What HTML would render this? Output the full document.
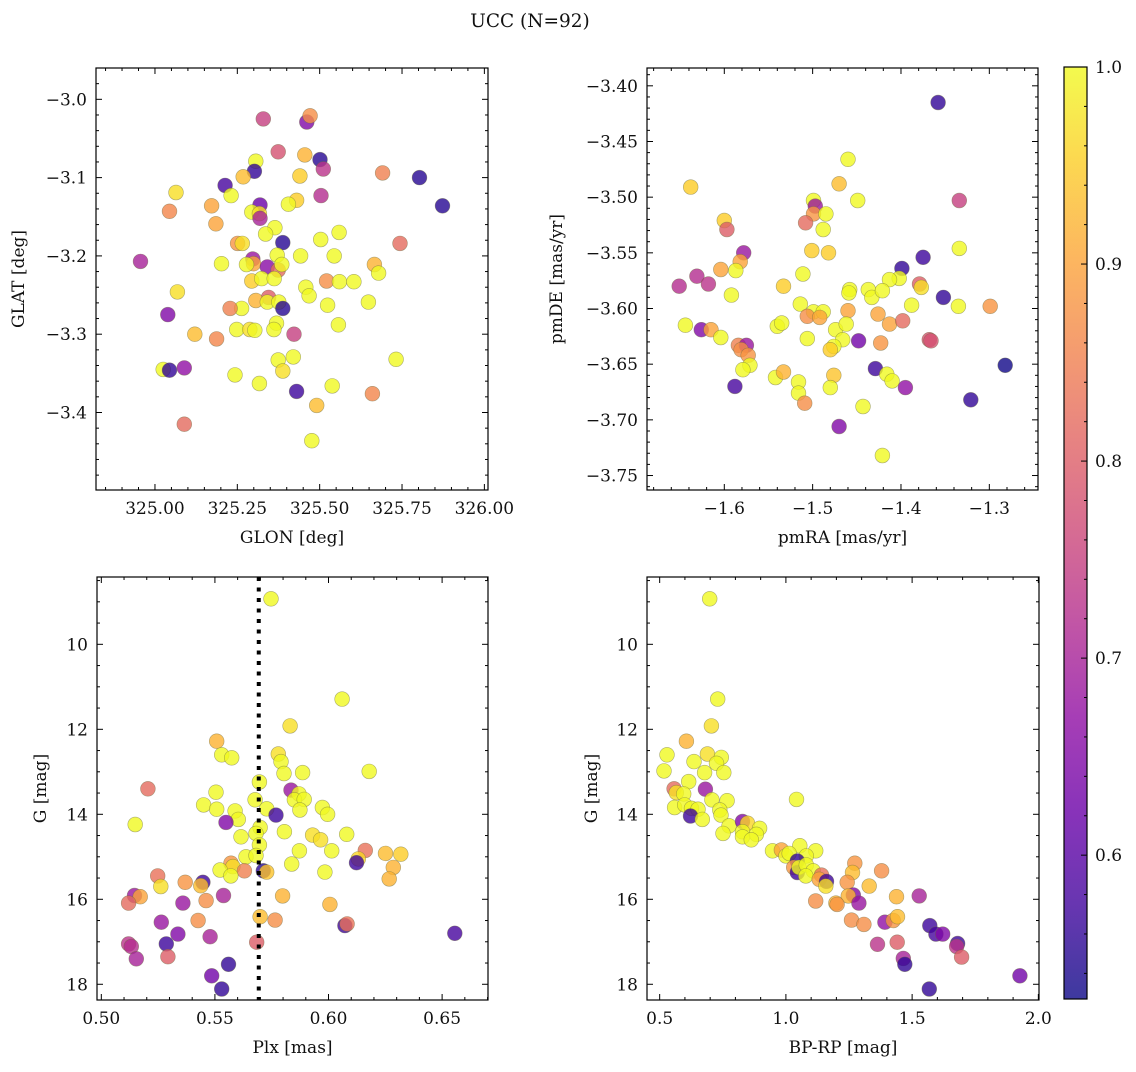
<!DOCTYPE html>
<html><head><meta charset="utf-8">
<style>
html,body{margin:0;padding:0;background:#fff;}
svg text{font-family:"DejaVu Serif","Liberation Serif",serif;fill:#111;}
</style></head>
<body>
<svg id="fig" xmlns="http://www.w3.org/2000/svg" width="1136" height="1067" viewBox="0 0 1136 1067">
<text x="530" y="27" font-size="18.5" text-anchor="middle">UCC (N=92)</text>
</svg>
<script>
// ---------- data ----------
const p1Glon=[325.329,325.461,325.471,325.374,325.455,325.501,325.511,325.306,325.302,325.268,325.440,325.691,325.803,325.213,325.231,325.064,325.504,325.430,325.405,325.319,325.172,325.044,325.294,325.317,325.319,325.185,325.364,325.336,325.559,325.503,325.388,325.744,325.251,325.265,325.371,325.442,325.544,324.956,325.202,325.297,325.299,325.278,325.341,325.374,325.385,325.666,325.679,325.294,325.324,325.362,325.521,325.560,325.604,325.458,325.468,325.068,325.345,325.306,325.341,325.376,325.388,325.263,325.228,325.524,325.648,325.039,325.557,325.369,325.248,325.288,325.303,325.361,325.422,325.121,325.187,325.025,325.044,325.089,325.374,325.420,325.388,325.243,325.732,325.317,325.538,325.430,325.660,325.491,325.089,325.476,325.873];
const p1Glat=[-3.025,-3.029,-3.021,-3.067,-3.071,-3.077,-3.089,-3.079,-3.092,-3.099,-3.098,-3.094,-3.100,-3.110,-3.123,-3.119,-3.123,-3.129,-3.134,-3.135,-3.136,-3.143,-3.144,-3.146,-3.152,-3.159,-3.164,-3.172,-3.170,-3.179,-3.183,-3.184,-3.184,-3.184,-3.199,-3.200,-3.200,-3.207,-3.210,-3.204,-3.210,-3.211,-3.214,-3.218,-3.211,-3.211,-3.222,-3.232,-3.229,-3.229,-3.232,-3.233,-3.233,-3.240,-3.251,-3.246,-3.253,-3.257,-3.259,-3.259,-3.267,-3.267,-3.267,-3.263,-3.259,-3.275,-3.288,-3.286,-3.294,-3.294,-3.295,-3.294,-3.300,-3.300,-3.306,-3.345,-3.346,-3.343,-3.333,-3.329,-3.347,-3.352,-3.332,-3.363,-3.366,-3.373,-3.376,-3.391,-3.415,-3.436,-3.136];
const p1Prob=[0.75,0.65,0.87,0.78,0.92,0.55,0.73,1,0.56,0.93,0.95,0.85,0.55,0.58,1,0.97,0.72,0.95,1,0.62,0.9,0.86,1,0.97,0.7,0.9,1,1,1,1,0.55,0.82,0.88,0.97,1,1,1,0.7,1,0.68,0.9,1,0.66,0.82,1,0.92,1,0.95,1,1,0.87,1,1,1,1,0.97,0.8,0.92,1,1,0.55,1,0.85,1,1,0.65,1,1,1,0.97,1,1,0.75,0.93,0.86,1,0.56,0.67,1,1,0.97,1,1,1,1,0.57,0.86,0.93,0.82,1,0.55];

const p2PmRA=[-1.358,-1.460,-1.638,-1.470,-1.334,-1.449,-1.499,-1.497,-1.499,-1.485,-1.508,-1.488,-1.600,-1.597,-1.578,-1.501,-1.482,-1.334,-1.375,-1.582,-1.604,-1.587,-1.631,-1.618,-1.651,-1.399,-1.402,-1.413,-1.379,-1.377,-1.511,-1.533,-1.592,-1.458,-1.459,-1.437,-1.433,-1.421,-1.352,-1.388,-1.335,-1.299,-1.514,-1.499,-1.488,-1.506,-1.492,-1.460,-1.426,-1.413,-1.398,-1.644,-1.626,-1.615,-1.604,-1.540,-1.535,-1.474,-1.462,-1.506,-1.466,-1.476,-1.480,-1.448,-1.423,-1.368,-1.366,-1.584,-1.575,-1.581,-1.573,-1.571,-1.579,-1.282,-1.542,-1.533,-1.429,-1.416,-1.410,-1.395,-1.588,-1.516,-1.516,-1.509,-1.476,-1.480,-1.443,-1.321,-1.470,-1.421];
const p2PmDE=[-3.415,-3.466,-3.491,-3.488,-3.503,-3.503,-3.503,-3.508,-3.515,-3.515,-3.523,-3.529,-3.521,-3.529,-3.550,-3.548,-3.550,-3.546,-3.554,-3.558,-3.565,-3.566,-3.571,-3.578,-3.580,-3.564,-3.573,-3.574,-3.578,-3.581,-3.569,-3.580,-3.588,-3.583,-3.586,-3.583,-3.590,-3.584,-3.590,-3.597,-3.598,-3.598,-3.596,-3.603,-3.603,-3.607,-3.608,-3.602,-3.605,-3.614,-3.611,-3.615,-3.619,-3.619,-3.626,-3.616,-3.613,-3.619,-3.614,-3.627,-3.628,-3.634,-3.637,-3.629,-3.631,-3.628,-3.629,-3.633,-3.633,-3.637,-3.642,-3.651,-3.655,-3.651,-3.662,-3.657,-3.654,-3.659,-3.665,-3.671,-3.670,-3.666,-3.676,-3.685,-3.660,-3.671,-3.688,-3.682,-3.706,-3.732];
const p2Prob=[0.56,1,0.95,0.93,0.75,1,1,0.68,0.88,1,0.82,1,0.95,0.8,0.68,0.95,0.95,1,0.57,0.9,0.9,1,0.72,0.73,0.72,0.56,1,1,0.8,0.97,1,0.95,1,1,1,1,1,1,0.56,1,1,0.88,1,1,1,0.87,0.9,0.9,0.9,0.9,0.82,1,0.65,0.9,1,1,1,1,1,1,1,1,0.95,0.63,0.88,0.78,0.78,0.85,0.68,0.87,0.88,1,1,0.53,1,0.92,0.57,1,1,0.67,0.58,1,1,0.87,0.94,1,1,0.56,0.65,1];

const p3Plx=[0.5747,0.6060,0.5831,0.5508,0.5530,0.5574,0.5779,0.5791,0.5804,0.5886,0.6179,0.5696,0.5205,0.5505,0.5835,0.5870,0.5850,0.5893,0.5677,0.5450,0.5508,0.5589,0.5603,0.5728,0.5769,0.5874,0.5973,0.5996,0.5549,0.5149,0.5699,0.5681,0.5806,0.5615,0.5930,0.5965,0.6080,0.5696,0.5872,0.6014,0.6162,0.6251,0.6318,0.5637,0.5681,0.6131,0.6123,0.5571,0.5579,0.5838,0.6285,0.5523,0.5630,0.5713,0.5728,0.5984,0.5570,0.6267,0.5248,0.5369,0.5447,0.5438,0.5262,0.5798,0.5538,0.5146,0.5171,0.5120,0.5359,0.5461,0.6006,0.5426,0.5264,0.5765,0.5699,0.6072,0.6082,0.6556,0.5337,0.5479,0.5120,0.5132,0.5286,0.5684,0.5293,0.5154,0.5560,0.5486,0.5530];
const p3G=[8.93,11.29,11.92,12.28,12.60,12.67,12.58,12.76,13.04,13.02,12.99,13.24,13.40,13.48,13.43,13.52,13.66,13.65,13.66,13.78,13.88,13.92,14.12,13.87,14.02,13.90,13.84,14.00,14.19,14.24,14.31,14.45,14.41,14.53,14.49,14.60,14.47,14.72,14.86,14.86,14.85,14.92,14.94,15.00,14.97,15.05,15.14,15.15,15.23,15.17,15.25,15.31,15.33,15.33,15.36,15.36,15.45,15.52,15.45,15.60,15.60,15.68,15.70,15.92,15.91,15.91,15.94,16.09,16.09,16.03,16.12,16.50,16.54,16.49,16.41,16.62,16.58,16.80,16.82,16.88,17.05,17.11,17.05,17.01,17.35,17.40,17.53,17.80,18.11];
const p3Prob=[1,1,0.97,0.92,1,1,0.97,1,1,1,1,1,0.82,1,0.68,1,1,1,1,1,1,1,1,1,0.57,1,1,1,0.65,1,1,1,1,1,0.97,0.97,1,1,1,1,0.83,0.93,0.95,1,1,0.96,0.57,0.88,0.97,1,0.92,1,0.85,0.55,0.94,1,1,0.92,0.83,0.88,0.57,0.93,0.97,0.92,0.7,0.68,0.9,0.82,0.68,0.87,0.92,0.87,0.68,0.87,0.93,0.57,0.83,0.58,0.65,0.7,0.73,0.72,0.57,0.8,0.8,0.7,0.56,0.63,0.56];
const p3PlxRef=0.5693;

const p4BpRp=[0.698,0.730,0.705,0.606,0.529,0.689,0.744,0.636,0.725,0.517,0.678,0.754,0.615,0.557,0.681,0.566,0.595,0.707,0.767,1.042,0.559,0.599,0.626,0.652,0.622,0.669,0.738,0.743,0.775,0.751,0.828,0.848,0.896,0.828,0.883,0.828,0.863,1.055,0.947,0.982,1.000,1.118,1.081,1.013,1.045,1.031,1.045,1.052,1.081,1.108,1.079,1.273,1.379,1.264,1.141,1.132,1.161,1.158,1.243,1.330,1.267,1.247,1.438,1.528,1.118,1.198,1.203,1.289,1.260,1.309,1.392,1.425,1.442,1.570,1.594,1.621,1.363,1.441,1.680,1.676,1.696,1.465,1.471,1.927,1.568];
const p4G=[8.93,11.29,11.92,12.28,12.60,12.58,12.66,12.76,12.80,12.98,13.02,13.02,13.23,13.40,13.41,13.49,13.52,13.66,13.68,13.65,13.84,13.78,13.86,13.88,14.04,14.12,13.90,14.02,14.27,14.45,14.17,14.21,14.33,14.41,14.47,14.53,14.60,14.74,14.86,14.84,14.98,14.86,14.98,14.92,15.10,15.25,15.37,15.25,15.19,15.33,15.45,15.15,15.33,15.37,15.43,15.53,15.58,15.69,15.60,15.69,15.90,15.92,15.94,15.92,16.04,16.09,16.12,16.09,16.49,16.59,16.54,16.50,16.41,16.62,16.82,16.82,17.06,17.01,17.04,17.11,17.36,17.39,17.53,17.80,18.11];
const p4Prob=[1,1,0.97,0.92,1,0.97,1,1,1,1,1,1,1,0.82,0.68,0.97,1,1,1,1,1,1,1,1,0.57,1,1,1,1,1,0.65,0.96,1,1,1,1,1,1,1,0.9,1,1,1,1,0.56,0.88,0.57,1,1,1,1,0.88,0.87,0.93,0.83,0.9,0.57,0.97,0.88,0.93,0.65,0.92,0.92,0.7,0.87,0.92,0.88,0.68,0.87,0.87,0.67,0.88,0.93,0.57,0.58,0.65,0.73,0.8,0.57,0.73,0.8,0.7,0.56,0.63,0.56];

const cbTicks=[0.6,0.7,0.8,0.9,1.0];
const cbMin=0.527, cbMax=1.0;

// ---------- helpers ----------
const NS="http://www.w3.org/2000/svg";
const svg=document.getElementById('fig');
function mk(tag,attrs,parent){const e=document.createElementNS(NS,tag);for(const k in attrs)e.setAttribute(k,attrs[k]);(parent||svg).appendChild(e);return e;}
const plasma=[[13,8,135],[65,4,157],[106,0,168],[143,13,164],[177,42,144],[204,71,120],[225,100,98],[242,132,75],[252,166,54],[252,206,37],[240,249,33]];
function cmap(t){t=Math.max(0,Math.min(1,t));const f=t*10,i=Math.min(9,Math.floor(f)),u=f-i;const a=plasma[i],b=plasma[i+1];return 'rgb('+a.map((v,k)=>Math.round(v+(b[k]-v)*u)).join(',')+')';}
function fmt(v,d){const s=Math.abs(v).toFixed(d);return (v<-1e-9?'\u2212':'')+s;}
const FS=17;

function panel(cfg,xs,ys,ps){
  const g=mk('g',{});
  
  
  const X=v=>cfg.L+(v-cfg.x0)/(cfg.x1-cfg.x0)*(cfg.R-cfg.L);
  const Y=v=>cfg.inv? cfg.T+(v-cfg.y0)/(cfg.y1-cfg.y0)*(cfg.B-cfg.T) : cfg.B-(v-cfg.y0)/(cfg.y1-cfg.y0)*(cfg.B-cfg.T);
  const pg=mk('g',{},g);
  
  
  for(let i=0;i<xs.length;i++){
    const c=mk('circle',{cx:X(xs[i]).toFixed(1),cy:Y(ys[i]).toFixed(1),r:7.4,fill:cmap((ps[i]-cbMin)/(cbMax-cbMin)),'fill-opacity':0.8,stroke:'#6b6b40','stroke-opacity':0.55,'stroke-width':0.6},pg);
    
    
  }
  if(cfg.vline!==undefined){
    const l=mk('line',{x1:X(cfg.vline),x2:X(cfg.vline),y1:cfg.T,y2:cfg.B,stroke:'#000','stroke-width':4,'stroke-dasharray':'4,6.5'},g);
    
    
  }
  const fr=mk('rect',{x:cfg.L,y:cfg.T,width:cfg.R-cfg.L,height:cfg.B-cfg.T,fill:'none',stroke:'#000','stroke-width':1.2},g);
  
  
  const eps=1e-9;
  for(let v=Math.ceil(cfg.x0/cfg.xmin-eps)*cfg.xmin; v<=cfg.x1+eps; v+=cfg.xmin){
    const vv=Math.round(v/cfg.xmin)*cfg.xmin;const px=X(vv);
    if(px<cfg.L-0.5||px>cfg.R+0.5)continue;
    const major=Math.abs(vv/cfg.xmaj-Math.round(vv/cfg.xmaj))<1e-6;const len=major?6:3;
    mk('line',{x1:px,x2:px,y1:cfg.B,y2:cfg.B-len,stroke:'#000','stroke-width':1},g);
    mk('line',{x1:px,x2:px,y1:cfg.T,y2:cfg.T+len,stroke:'#000','stroke-width':1},g);
    if(major){const t=mk('text',{x:px,y:cfg.B+24,'font-size':FS,'text-anchor':'middle'},g);t.textContent=fmt(vv,cfg.xd);
      
      }
  }
  const ylo=Math.min(cfg.y0,cfg.y1),yhi=Math.max(cfg.y0,cfg.y1);
  for(let v=Math.ceil(ylo/cfg.ymin-eps)*cfg.ymin; v<=yhi+eps; v+=cfg.ymin){
    const vv=Math.round(v/cfg.ymin)*cfg.ymin;const py=Y(vv);
    if(py<cfg.T-0.5||py>cfg.B+0.5)continue;
    const major=Math.abs(vv/cfg.ymaj-Math.round(vv/cfg.ymaj))<1e-6;const len=major?6:3;
    mk('line',{x1:cfg.L,x2:cfg.L+len,y1:py,y2:py,stroke:'#000','stroke-width':1},g);
    mk('line',{x1:cfg.R,x2:cfg.R-len,y1:py,y2:py,stroke:'#000','stroke-width':1},g);
    if(major){const t=mk('text',{x:cfg.L-9,y:py+6,'font-size':FS,'text-anchor':'end'},g);t.textContent=fmt(vv,cfg.yd);
      
      }
  }
  const xl=mk('text',{x:(cfg.L+cfg.R)/2,y:cfg.B+53,'font-size':FS,'text-anchor':'middle'},g);xl.textContent=cfg.xlab;
  
  
  const yl=mk('text',{x:0,y:0,'font-size':FS,'text-anchor':'middle',transform:'translate('+cfg.ylx+','+((cfg.T+cfg.B)/2)+') rotate(-90)'},g);yl.textContent=cfg.ylab;
  
  
}

panel({name:'glon-glat-panel',L:96,R:488,T:68,B:490,x0:324.821,x1:326.011,y0:-3.499,y1:-2.96,xmaj:0.25,xmin:0.05,ymaj:0.1,ymin:0.02,xd:2,yd:1,xlab:'GLON [deg]',ylab:'GLAT [deg]',ylx:24},p1Glon,p1Glat,p1Prob);
panel({name:'pm-panel',L:647,R:1038,T:68,B:490,x0:-1.6875,x1:-1.2449,y0:-3.763,y1:-3.384,xmaj:0.1,xmin:0.02,ymaj:0.05,ymin:0.01,xd:1,yd:2,xlab:'pmRA [mas/yr]',ylab:'pmDE [mas/yr]',ylx:562},p2PmRA,p2PmDE,p2Prob);
panel({name:'plx-g-panel',L:97,R:488,T:577,B:1000,x0:0.4981,x1:0.6702,y0:8.416,y1:18.37,inv:true,xmaj:0.05,xmin:0.01,ymaj:2,ymin:0.5,xd:2,yd:0,xlab:'Plx [mas]',ylab:'G [mag]',ylx:46,vline:p3PlxRef},p3Plx,p3G,p3Prob);
panel({name:'cmd-panel',L:647,R:1039,T:577,B:1000,x0:0.4498,x1:2.0026,y0:8.416,y1:18.37,inv:true,xmaj:0.5,xmin:0.1,ymaj:2,ymin:0.5,xd:1,yd:0,xlab:'BP-RP [mag]',ylab:'G [mag]',ylx:597},p4BpRp,p4G,p4Prob);

// ---------- colorbar ----------
const cb=mk('g',{});


const defs=mk('defs',{},cb);
const lg=mk('linearGradient',{id:'plasmaGrad',x1:0,y1:1,x2:0,y2:0},defs);
for(let i=0;i<=20;i++){mk('stop',{offset:(i/20),'stop-color':cmap(i/20),'stop-opacity':0.8},lg);}
const CL=1064,CR=1087,CT=67,CB=999;
const cy=v=>CB-(v-cbMin)/(cbMax-cbMin)*(CB-CT);
const cbr=mk('rect',{x:CL,y:CT,width:CR-CL,height:CB-CT,fill:'url(#plasmaGrad)',stroke:'#000','stroke-width':1.2},cb);


for(let v=0.54;v<=1.0001;v+=0.02){const vv=Math.round(v*100)/100;const major=cbTicks.some(t=>Math.abs(t-vv)<1e-6);
  mk('line',{x1:CR,x2:CR-(major?6:3),y1:cy(vv),y2:cy(vv),stroke:'#000','stroke-width':1},cb);}
for(const t of cbTicks){const tx=mk('text',{x:CR+8,y:cy(t)+6,'font-size':FS},cb);tx.textContent=t.toFixed(1);
  
  }
</script>
</body></html>
